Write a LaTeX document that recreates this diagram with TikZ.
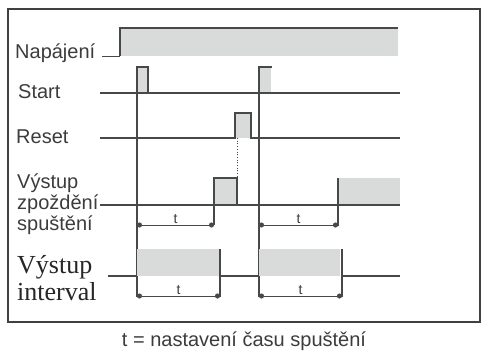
\documentclass[tikz,border=0pt]{standalone}
\usepackage{fontspec}
\setmainfont{Liberation Sans}
\newfontfamily\timesface{Liberation Serif}
\usetikzlibrary{arrows.meta}
\definecolor{sigline}{HTML}{484848}
\definecolor{sigfill}{HTML}{D9DBDB}
\definecolor{labeltext}{HTML}{3C3C3C}
\definecolor{framecol}{HTML}{404040}

\begin{document}
\begin{tikzpicture}[x=1pt,y=-1pt,
    signal/.style={draw=sigline,line width=1.2pt},
    siglabel/.style={anchor=base west,inner sep=0pt,text=labeltext,font=\fontsize{20}{22}\selectfont},
    seriflabel/.style={anchor=base west,inner sep=0pt,text=black!85,font=\timesface\fontsize{26}{28}\selectfont},
    span/.style={draw=sigline,line width=1pt,{Circle[length=5pt]}-{Circle[length=5pt]}},
    tmark/.style={inner sep=0.5pt,anchor=south,text=labeltext,font=\fontsize{14}{14}\selectfont}]
  \useasboundingbox (0,0) rectangle (483,351);

  % Frame
  \draw[draw=framecol,line width=2pt] (8,9) rectangle (480,322);

  % Labels
  \node[siglabel] (napajeni) at (15,58) {Napájení};
  \node[siglabel] (start) at (18,98) {Start};
  \node[siglabel] (reset) at (16,143) {Reset};
  \node[siglabel] (zpozdeni1) at (17,188) {Výstup};
  \node[siglabel] (zpozdeni2) at (17,209) {zpoždění};
  \node[siglabel] (zpozdeni3) at (17,230) {spuštění};
  \node[seriflabel] (interval1) at (17,273) {Výstup};
  \node[seriflabel] (interval2) at (17,300) {interval};
  \node[siglabel,anchor=base] (caption) at (244,346) {t = nastavení času spuštění};

  % Napajeni
  \fill[sigfill] (120,28) rectangle (398,56);
  \draw[signal,line width=0.7pt] (102,56) -- (120,56);
  \draw[signal] (120,56) -- (120,28) -- (398,28);

  % Start
  \fill[sigfill] (137,67) rectangle (148,93);
  \fill[sigfill] (259,67) rectangle (271,93);
  \draw[signal] (100,93) -- (400,93);
  \draw[signal] (137,297) -- (137,67) -- (148,67) -- (148,93);
  \draw[signal] (259,297) -- (259,67) -- (272,67);

  % Reset
  \fill[sigfill] (235,113) rectangle (251,138);
  \draw[signal] (100,138) -- (235,138) -- (235,113) -- (251,113) -- (251,138) -- (400,138);
  \draw[signal,line width=0.7pt,dotted] (237,138) -- (237,178);

  % Vystup zpozdeni spusteni
  \fill[sigfill] (214,178) rectangle (237,205);
  \fill[sigfill] (338,178) rectangle (400,204);
  \draw[signal] (100,205) -- (400,205);
  \draw[signal] (214,225) -- (214,178) -- (237,178) -- (237,205);
  \draw[signal] (338,226) -- (338,178);
  \coordinate (d1a) at (137,225);
  \coordinate (d1b) at (214,225);
  \coordinate (d2a) at (259,225);
  \coordinate (d2b) at (338,225);
  \draw[span] (d1a) -- node[tmark] {t} (d1b);
  \draw[span] (d2a) -- node[tmark] {t} (d2b);

  % Vystup interval
  \fill[sigfill] (137,249) rectangle (220,276);
  \fill[sigfill] (259,249) rectangle (340,276);
  \draw[signal] (108,276) -- (137,276);
  \draw[signal] (220,276) -- (259,276);
  \draw[signal] (342,276) -- (400,276);
  \draw[signal] (220,249) -- (220,297);
  \draw[signal] (342,249) -- (342,297);
  \coordinate (i1a) at (137,296);
  \coordinate (i1b) at (220,296);
  \coordinate (i2a) at (259,296);
  \coordinate (i2b) at (342,296);
  \draw[span] (i1a) -- node[tmark] {t} (i1b);
  \draw[span] (i2a) -- node[tmark] {t} (i2b);
\end{tikzpicture}
\end{document}
